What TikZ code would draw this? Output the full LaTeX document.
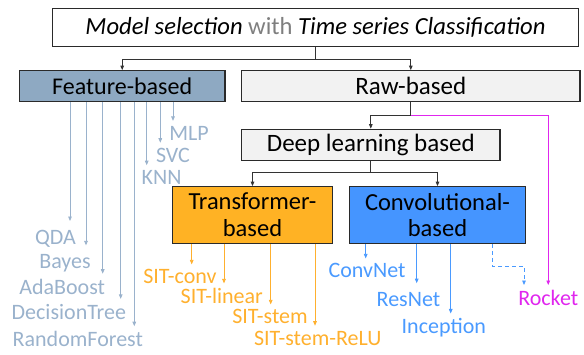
\documentclass[tikz,border=0pt]{standalone}
\usepackage{fontspec}
\setmainfont{Carlito}
\usetikzlibrary{arrows.meta,calc}
\definecolor{boxline}{HTML}{2A2A2A}
\definecolor{connc}{HTML}{333333}
\definecolor{featfill}{HTML}{8EA9C2}
\definecolor{featleaf}{HTML}{9AB2CC}
\definecolor{lightfill}{HTML}{F2F2F2}
\definecolor{transfill}{HTML}{FFB224}
\definecolor{transleaf}{HTML}{FFB02E}
\definecolor{convfill}{HTML}{4595FF}
\definecolor{convleaf}{HTML}{4A9AFF}
\definecolor{rocketc}{HTML}{E026EE}
\definecolor{withgray}{HTML}{7F7F7F}
\begin{document}
\begin{tikzpicture}[x=1pt,y=-1pt,
  box/.style={draw=boxline,line width=1.2pt,inner sep=0pt,align=center,
    font=\fontsize{25}{26.7}\selectfont},
  twoline/.style={font=\fontsize{24.5}{26.7}\selectfont},
  leaf/.style={inner sep=0pt,outer xsep=0pt,outer ysep=5pt,anchor=base west,
    font=\fontsize{22}{24}\selectfont},
  conn/.style={line width=0.8pt,draw=connc,-{Triangle[length=4.5pt,width=3.6pt]}},
  link/.style={line width=0.8pt,draw=connc},
  far/.style={shorten >=4pt},
]
\useasboundingbox (0,0) rectangle (584,354);

% boxes
\node[box,minimum width=525.6pt,minimum height=38.4pt,
  font=\fontsize{24.6}{27}\selectfont\itshape] (top) at (315.5,27.5)
  {Model selection {\upshape\color{withgray}with} Time series Classification};
\node[box,fill=featfill,minimum width=205.7pt,minimum height=31pt,
  font=\fontsize{24}{26}\selectfont] (feature) at (122.2,86.2) {Feature-based};
\node[box,fill=lightfill,minimum width=338.3pt,minimum height=31pt] (raw) at (410.8,86.2) {Raw-based};
\node[box,fill=lightfill,minimum width=258.3pt,minimum height=31.5pt] (deep) at (370.8,145) {Deep learning based};
\node[box,twoline,fill=transfill,minimum width=159.6pt,minimum height=56.6pt] (trans) at (252.5,215) {Transformer-\\based};
\node[box,twoline,fill=convfill,minimum width=176.4pt,minimum height=56.6pt] (conv) at (437.5,215) {Convolutional-\\based};

% leaves: feature-based
\node[leaf,text=featleaf] (mlp) at (169.3,140) {MLP};
\node[leaf,text=featleaf] (svc) at (156,162) {SVC};
\node[leaf,text=featleaf] (knn) at (141.7,184.3) {KNN};
\node[leaf,text=featleaf] (qda) at (35,244.3) {QDA};
\node[leaf,text=featleaf] (bayes) at (39.3,268.5) {Bayes};
\node[leaf,text=featleaf] (ada) at (19.3,294) {AdaBoost};
\node[leaf,text=featleaf] (dt) at (11.7,319) {DecisionTree};
\node[leaf,text=featleaf] (rf) at (12.7,346.5) {RandomForest};
% leaves: transformer-based
\node[leaf,text=transleaf] (sc) at (143.3,283.7) {SIT-conv};
\node[leaf,text=transleaf] (sl) at (180.7,303.7) {SIT-linear};
\node[leaf,text=transleaf] (ss) at (232.3,323.7) {SIT-stem};
\node[leaf,text=transleaf] (sr) at (254,345) {SIT-stem-ReLU};
% leaves: convolutional-based
\node[leaf,text=convleaf] (cn) at (328.6,277.7) {ConvNet};
\node[leaf,text=convleaf] (rn) at (376.7,306.3) {ResNet};
\node[leaf,text=convleaf] (inc) at (401.7,333.7) {Inception};
\node[leaf,text=rocketc] (rocket) at (518.3,305.3) {Rocket};

% main tree connectors
\coordinate (j1) at (315.5,59.3);
\draw[link] (top.south) -- (j1);
\draw[conn] (j1) -| (feature.north);
\draw[conn] (j1) -| (raw.north);
\coordinate (j2) at (410.8,115.3);
\draw[link] (raw.south) -- (j2);
\draw[conn] (j2) -| (deep.north);
\draw[conn,draw=rocketc] (j2) -| (rocket.north);
\coordinate (j3) at (370.8,172.3);
\draw[link] (deep.south) -- (j3);
\draw[conn] (j3) -| (trans.north);
\draw[conn] (j3) -| (conv.north);

% feature-based arrows
\coordinate (xqda) at (70,0);
\coordinate (xbay) at (86,0);
\coordinate (xada) at (102.7,0);
\coordinate (xdt) at (120.7,0);
\coordinate (xrf) at (134.3,0);
\coordinate (xknn) at (146.7,0);
\coordinate (xsvc) at (160.3,0);
\coordinate (xmlp) at (173,0);
\draw[conn,draw=featleaf,far] (xqda |- feature.south) -- (xqda |- qda.north);
\draw[conn,draw=featleaf,far] (xbay |- feature.south) -- (xbay |- bayes.north);
\draw[conn,draw=featleaf] (xada |- feature.south) -- (xada |- ada.north);
\draw[conn,draw=featleaf] (xdt |- feature.south) -- (xdt |- dt.north);
\draw[conn,draw=featleaf] (xrf |- feature.south) -- (xrf |- rf.north);
\draw[conn,draw=featleaf] (xknn |- feature.south) -- (xknn |- knn.north);
\draw[conn,draw=featleaf] (xsvc |- feature.south) -- (xsvc |- svc.north);
\draw[conn,draw=featleaf] (xmlp |- feature.south) -- (xmlp |- mlp.north);

% transformer-based arrows
\coordinate (xsc) at (191.7,0);
\coordinate (xsl) at (224,0);
\coordinate (xss) at (270.7,0);
\coordinate (xsr) at (315,0);
\draw[conn,draw=transleaf] (xsc |- trans.south) -- (xsc |- sc.north);
\draw[conn,draw=transleaf] (xsl |- trans.south) -- (xsl |- sl.north);
\draw[conn,draw=transleaf] (xss |- trans.south) -- (xss |- ss.north);
\draw[conn,draw=transleaf] (xsr |- trans.south) -- (xsr |- sr.north);

% convolutional-based arrows
\coordinate (xcn) at (365.7,0);
\coordinate (xrn) at (416.7,0);
\coordinate (xinc) at (450.7,0);
\draw[conn,draw=convleaf] (xcn |- conv.south) -- (xcn |- cn.north);
\draw[conn,draw=convleaf,far] (xrn |- conv.south) -- (xrn |- rn.north);
\draw[conn,draw=convleaf] (xinc |- conv.south) -- (xinc |- inc.north);
\coordinate (d1) at (492.3,266);
\coordinate (xd2) at (524,0);
\draw[conn,draw=convleaf,dash pattern=on 4pt off 3pt] (d1 |- conv.south) -- (d1) -| (xd2 |- rocket.north);
\end{tikzpicture}
\end{document}
